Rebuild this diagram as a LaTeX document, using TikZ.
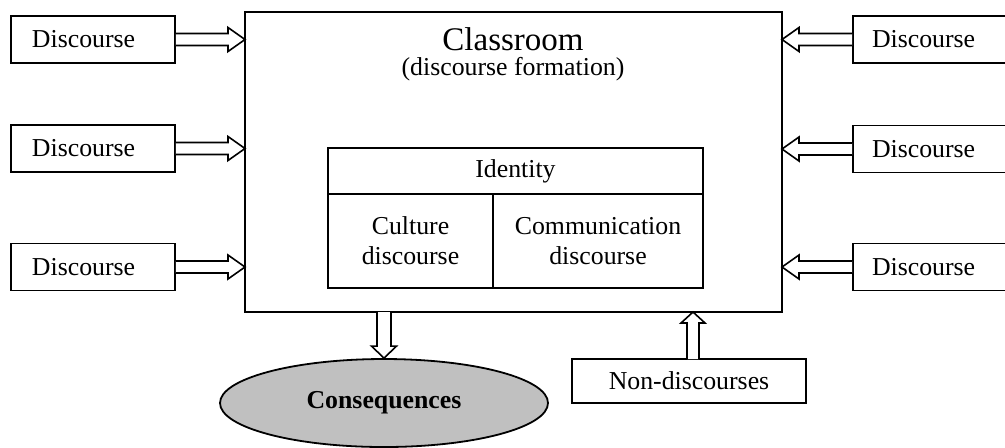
\documentclass[tikz,border=0pt]{standalone}
\usepackage{fontspec}
\setmainfont{Liberation Serif}
\usetikzlibrary{calc,shapes.geometric}
% #1 shaft half-width, #2 wing half-width, #3 head length, #4 from, #5 to
\newcommand\blockarrow[5]{%
  \coordinate (bahead) at ($(#5)!#3!(#4)$);
  \draw[arrowline] ($(#4)!#1!90:(#5)$) -- ($(bahead)!#1!90:(#5)$) -- ($(bahead)!#2!90:(#5)$) -- (#5)
     -- ($(bahead)!#2!-90:(#5)$) -- ($(bahead)!#1!-90:(#5)$) -- ($(#4)!#1!-90:(#5)$);
}
\begin{document}
\begin{tikzpicture}[x=0.5pt,y=-0.5pt,
  every node/.style={font=\fontsize{12.9pt}{15pt}\selectfont},
  dbox/.style={draw,line width=0.9pt,minimum height=23.5pt,inner ysep=0pt,inner xsep=10.5pt,align=left},
  plainbox/.style={draw,line width=0.9pt,inner sep=0pt,outer sep=0pt,align=center},
  arrowline/.style={draw,line width=0.8pt,line join=miter,fill=white},
  txt/.style={inner sep=0pt,anchor=base}]
\useasboundingbox (0,0) rectangle (1005,447);
% main box
\node[plainbox,minimum width=268.5pt,minimum height=150pt] (main) at (513.5,162) {};
\node[txt,font=\fontsize{16.5pt}{19pt}\selectfont] (title) at (513,50) {Classroom};
\node[txt] (subtitle) at (513,75) {(discourse formation)};
% inner table
\node[plainbox,minimum width=187.5pt,minimum height=23pt] (ident) at (515.5,171) {Identity};
\node[plainbox,minimum width=82.5pt,minimum height=47pt] (cult) at (410.5,241) {Culture\\discourse};
\node[plainbox,minimum width=105pt,minimum height=47pt] (comm) at (598,241) {Communication\\discourse};
% left discourse boxes
\node[dbox,text width=61pt] (l1) at (93,39.5) {Discourse};
\node[dbox,text width=61pt] (l2) at (93,148.5) {Discourse};
\node[dbox,text width=61pt] (l3) at (93,267) {Discourse};
% right discourse boxes
\node[dbox,text width=58.5pt,inner xsep=9.5pt] (r1) at (930.5,39.5) {Discourse};
\node[dbox,text width=58.5pt,inner xsep=9.5pt] (r2) at (930.5,149) {Discourse};
\node[dbox,text width=58.5pt,inner xsep=9.5pt] (r3) at (930.5,267) {Discourse};
% consequences and non-discourses
\node[ellipse,draw,line width=0.9pt,fill={rgb,255:red,192;green,192;blue,192},minimum width=164pt,minimum height=44pt,inner sep=0pt,font=\fontsize{12.9pt}{15pt}\selectfont\bfseries] (cons) at (384,403) {Consequences};
\node[plainbox,minimum width=117pt,minimum height=22pt] (nond) at (689,381) {Non-discourses};
% connectors
\coordinate (la1) at (main.west |- l1.east);
\coordinate (la2) at (main.west |- l2.east);
\coordinate (la3) at (main.west |- l3.east);
\coordinate (ra1) at (main.east |- r1.west);
\coordinate (ra2) at (main.east |- r2.west);
\coordinate (ra3) at (main.east |- r3.west);
\coordinate (dtop) at (main.south -| cons.north);
\coordinate (utop) at ([xshift=2pt]main.south -| nond.north);
\coordinate (ubot) at ([xshift=2pt]nond.north);
\blockarrow{3pt}{6pt}{8.5pt}{l1.east}{la1}
\blockarrow{3pt}{6pt}{8.5pt}{l2.east}{la2}
\blockarrow{3pt}{6pt}{8.5pt}{l3.east}{la3}
\blockarrow{3pt}{6pt}{8.5pt}{r1.west}{ra1}
\blockarrow{3pt}{6pt}{8.5pt}{r2.west}{ra2}
\blockarrow{3pt}{6pt}{8.5pt}{r3.west}{ra3}
\blockarrow{3.5pt}{6.25pt}{6pt}{dtop}{cons.north}
\blockarrow{3pt}{6pt}{5.5pt}{ubot}{utop}
\end{tikzpicture}
\end{document}
